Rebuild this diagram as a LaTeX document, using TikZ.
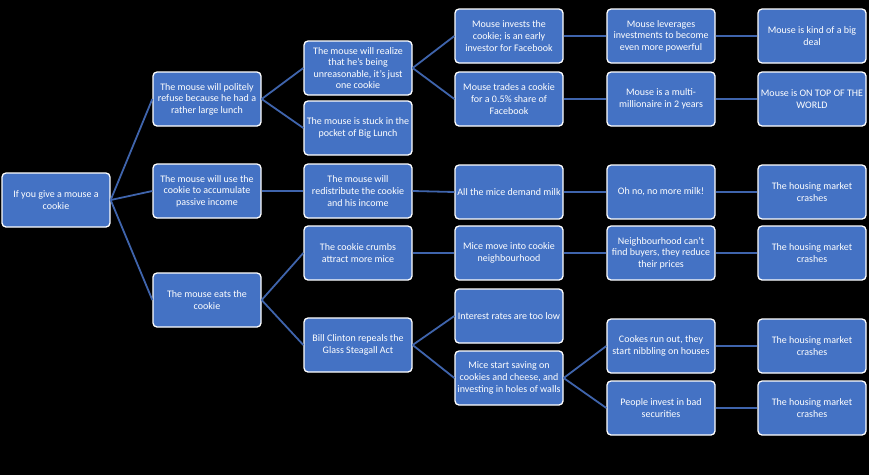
\documentclass[tikz,border=0pt]{standalone}
\usepackage{fontspec}
\setmainfont{Carlito}
\definecolor{boxblue}{RGB}{68,114,196}
\definecolor{lineblue}{RGB}{63,100,172}
\begin{document}
\begin{tikzpicture}
          [x=1pt,y=-1pt,every node/.style={draw=white, line width=1.3pt, fill=boxblue, text=white,
            rounded corners=4pt, minimum width=108pt, minimum height=54pt, inner xsep=0pt,
            align=center, font=\fontsize{10}{11.6}\selectfont}]
        \fill[black] (0,0) rectangle (869,475);

        \node (root) at (56,200) {If you give a mouse a\\cookie};

        \node (a1) at (207,99) {The mouse will politely\\refuse because he had a\\rather large lunch};
        \node (a2) at (207,191) {The mouse will use the\\cookie to accumulate\\passive income};
        \node (a3) at (207,300) {The mouse eats the\\cookie};

        \node (b1) at (358,68) {The mouse will realize\\that he's being\\unreasonable, it's just\\one cookie};
        \node (b2) at (358,128) {The mouse is stuck in the\\pocket of Big Lunch};
        \node (b3) at (358,191) {The mouse will\\redistribute the cookie\\and his income};
        \node (b4) at (358,253) {The cookie crumbs\\attract more mice};
        \node (b5) at (358,345) {Bill Clinton repeals the\\Glass Steagall Act};

        \node (c1) at (509,36) {Mouse invests the\\cookie; is an early\\investor for Facebook};
        \node (c2) at (509,99) {Mouse trades a cookie\\for a 0.5\% share of\\Facebook};
        \node (c3) at (509,192) {All the mice demand milk};
        \node (c4) at (509,253) {Mice move into cookie\\neighbourhood};
        \node (c5) at (509,316) {Interest rates are too low};
        \node (c6) at (509,378) {Mice start saving on\\cookies and cheese, and\\investing in holes of walls};

        \node (d1) at (661,36) {Mouse leverages\\investments to become\\even more powerful};
        \node (d2) at (661,99) {Mouse is a multi-\\millionaire in 2 years};
        \node (d3) at (661,192) {Oh no, no more milk!};
        \node (d4) at (661,253) {Neighbourhood can't\\find buyers, they reduce\\their prices};
        \node (d5) at (661,346) {Cookes run out, they\\start nibbling on houses};
        \node (d6) at (661,408) {People invest in bad\\securities};

        \node (e1) at (812,36) {Mouse is kind of a big\\deal};
        \node (e2) at (812,99) {Mouse is ON TOP OF THE\\WORLD};
        \node (e3) at (812,192) {The housing market\\crashes};
        \node (e4) at (812,253) {The housing market\\crashes};
        \node (e5) at (812,346) {The housing market\\crashes};
        \node (e6) at (812,408) {The housing market\\crashes};

        \foreach \from/\to in {root/a1, root/a2, root/a3, a1/b1, a1/b2, a2/b3, a3/b4, a3/b5,
            b1/c1, b1/c2, b3/c3, b4/c4, b5/c5, b5/c6, c1/d1, c2/d2, c3/d3, c4/d4, c6/d5, c6/d6,
            d1/e1, d2/e2, d3/e3, d4/e4, d5/e5, d6/e6}
          \draw[lineblue, line width=1.8pt] (\from.east) -- (\to.west);
      \end{tikzpicture}
\end{document}
